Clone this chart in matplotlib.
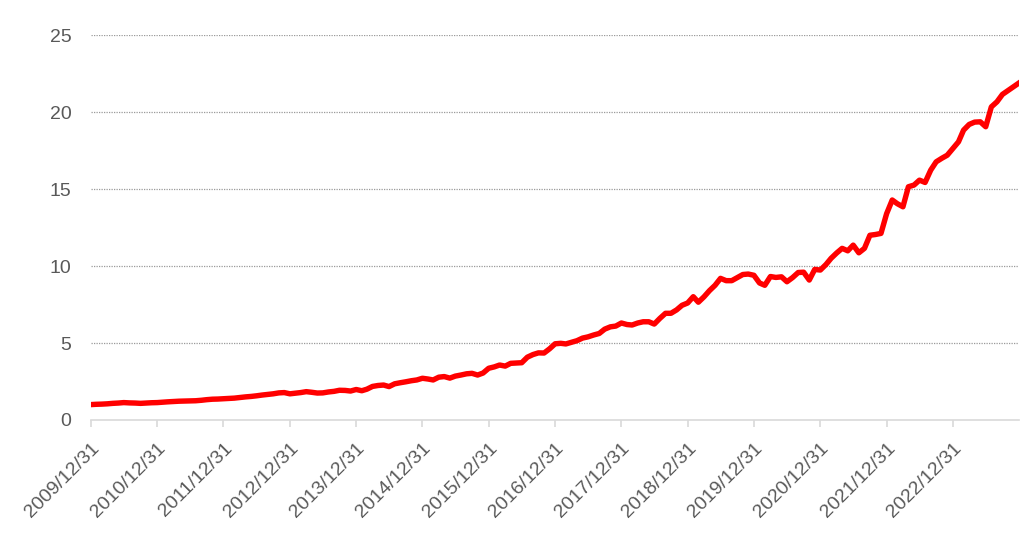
import matplotlib.pyplot as plt
import matplotlib.dates as mdates
import pandas as pd

plt.rcParams['font.family'] = ['Liberation Sans', 'DejaVu Sans']

# monthly values, 2009/12 .. 2023/12
values = [
    1.00,
    1.02, 1.03, 1.05, 1.08, 1.10, 1.13, 1.11, 1.10, 1.08, 1.10, 1.12, 1.13,
    1.16, 1.18, 1.20, 1.22, 1.23, 1.24, 1.25, 1.28, 1.32, 1.35, 1.36, 1.38,
    1.40, 1.42, 1.46, 1.50, 1.53, 1.57, 1.62, 1.66, 1.70, 1.76, 1.78, 1.70,
    1.74, 1.78, 1.84, 1.80, 1.75, 1.76, 1.82, 1.86, 1.93, 1.92, 1.88, 1.98,
    1.90, 2.00, 2.18, 2.24, 2.27, 2.17, 2.35, 2.42, 2.48, 2.55, 2.60, 2.71,
    2.66, 2.60, 2.78, 2.82, 2.72, 2.85, 2.92, 3.00, 3.03, 2.92, 3.05, 3.36,
    3.45, 3.57, 3.50, 3.68, 3.70, 3.72, 4.08, 4.25, 4.36, 4.35, 4.62, 4.95,
    4.98, 4.94, 5.05, 5.15, 5.32, 5.40, 5.52, 5.62, 5.90, 6.05, 6.10, 6.30,
    6.20, 6.17, 6.30, 6.38, 6.38, 6.23, 6.60, 6.93, 6.93, 7.15, 7.45, 7.60,
    8.01, 7.65, 8.00, 8.40, 8.75, 9.20, 9.05, 9.05, 9.25, 9.45, 9.48, 9.40,
    8.90, 8.75, 9.32, 9.26, 9.30, 8.98, 9.25, 9.58, 9.60, 9.09, 9.78, 9.74,
    10.10, 10.50, 10.85, 11.15, 10.99, 11.36, 10.86, 11.15, 12.00, 12.05, 12.12, 13.40,
    14.29, 14.05, 13.85, 15.15, 15.26, 15.58, 15.43, 16.23, 16.77, 17.00, 17.20, 17.64,
    18.07, 18.83, 19.20, 19.35, 19.37, 19.05, 20.34, 20.67, 21.15, 21.40, 21.65, 21.90,
]
dates = pd.date_range('2009-12-31', periods=len(values), freq='ME')
tick_dates = pd.date_range('2009-12-31', '2022-12-31', freq='YE')

fig = plt.figure(figsize=(10.29, 5.49), dpi=100)
ax = fig.add_axes([0.0884, 0.235, 0.902, 0.701])

ax.plot(dates, values, color='#ff0000', lw=3.9, solid_joinstyle='round', zorder=3)

ax.set_xlim(pd.Timestamp('2009-12-31'), pd.Timestamp('2023-12-31'))
ax.set_ylim(0, 25)
ax.set_yticks([0, 5, 10, 15, 20, 25])
ax.set_xticks(tick_dates)
ax.xaxis.set_major_formatter(mdates.DateFormatter('%Y/%m/%d'))

for y in [5, 10, 15, 20, 25]:
    ax.axhline(y, color='#9a9a9a', lw=0.9, ls=(0, (1, 1)), zorder=1)

for s in ['left', 'right', 'top']:
    ax.spines[s].set_visible(False)
ax.spines['bottom'].set_color('#d9d9d9')
ax.spines['bottom'].set_linewidth(1.2)

ax.tick_params(axis='y', length=0, pad=14, labelsize=14, labelcolor='#595959')
ax.tick_params(axis='x', length=5, width=1.2, color='#d9d9d9', pad=9,
               labelsize=14, labelcolor='#595959')
for lab in ax.get_xticklabels():
    lab.set_rotation(45)
    lab.set_ha('right')
    lab.set_rotation_mode('anchor')

fig.savefig('out.png', dpi=100, facecolor='white')
